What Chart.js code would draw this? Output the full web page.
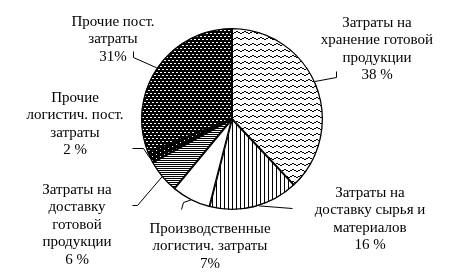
<!DOCTYPE html>
<html lang="ru">
<head>
  <meta charset="UTF-8">
  <title>Структура логистических затрат</title>
  <script src="https://cdn.jsdelivr.net/npm/chart.js"></script>
  <style>
    html, body { margin: 0; padding: 0; background: #fff; }
    #wrap { width: 468px; height: 278px; }
    .preload { font-family: "Liberation Serif"; position: absolute; left: -999px; top: 0; }
  </style>
</head>
<body>
  <div id="wrap"><canvas id="pie" width="468" height="278"></canvas></div>
  <span class="preload">Затраты 38 %</span>
  <script>
    // data, clockwise from 12 o'clock
    const categories = [
      'Затраты на\nхранение готовой\nпродукции',
      'Затраты на\nдоставку сырья и\nматериалов',
      'Производственные\nлогистич. затраты',
      'Затраты на\nдоставку\nготовой\nпродукции',
      'Прочие\nлогистич. пост.\nзатраты',
      'Прочие пост.\nзатраты'
    ];
    const shares = [38, 16, 7, 6, 2, 31];
    const shareLabels = ['38 %', '16 %', '7%', '6 %', '2 %', '31%'];

    // where each label sits and how its leader line runs
    const labelLayout = [
      { x: 377, y: 23, frac: 0.48, path: [[336, 77], [336, 71]] },
      { x: 370, y: 193, frac: 0.45, path: [[292, 208]] },
      { x: 210, y: 229, frac: 0.5, path: [[183, 202], [181, 209]] },
      { x: 77, y: 190, frac: 0.5, path: [[137, 205], [132, 205]] },
      { x: 75, y: 98, frac: 0.5, path: [[143, 148], [132, 148]] },
      { x: 113, y: 22, frac: 0.5, path: [[133, 57], [133, 51]] }
    ];
    const lineStep = 17.4;

    function tile(w, h, draw) {
      const c = document.createElement('canvas');
      c.width = w; c.height = h;
      const g = c.getContext('2d');
      draw(g);
      return g.createPattern(c, 'repeat');
    }
    const ctx0 = document.getElementById('pie').getContext('2d');

    const wavy = tile(8, 6, g => {
      g.fillStyle = '#fff'; g.fillRect(0, 0, 8, 6);
      g.fillStyle = '#000';
      [2, 2, 1, 1, 0, 0, 1, 1].forEach((yy, xx) => g.fillRect(xx, yy + 1, 1, 1));
    });
    const vlines = tile(4, 1, g => {
      g.fillStyle = '#fff'; g.fillRect(0, 0, 4, 1);
      g.fillStyle = '#000'; g.fillRect(0, 0, 1, 1);
    });
    const hlines = tile(1, 2, g => {
      g.fillStyle = '#fff'; g.fillRect(0, 0, 1, 2);
      g.fillStyle = '#000'; g.fillRect(0, 0, 1, 1);
    });
    const darkDots = tile(8, 4, g => {
      g.fillStyle = '#000'; g.fillRect(0, 0, 8, 4);
      g.fillStyle = '#fff'; g.fillRect(0, 0, 1, 1); g.fillRect(4, 2, 1, 1);
    });
    const dashes = tile(4, 6, g => {
      g.fillStyle = '#000'; g.fillRect(0, 0, 4, 6);
      g.fillStyle = '#fff'; g.fillRect(0, 0, 2, 1); g.fillRect(2, 3, 2, 1);
    });
    const fills = [wavy, vlines, '#fff', hlines, darkDots, dashes];

    const FONT = '15px "Liberation Serif", "Times New Roman", serif';

    const outsideLabels = {
      id: 'outsideLabels',
      afterDraw(chart) {
        const ctx = chart.ctx;
        const arcs = chart.getDatasetMeta(0).data;
        ctx.save();
        ctx.strokeStyle = '#000';
        ctx.lineWidth = 1;
        arcs.forEach((arc, i) => {
          const p = arc.getProps(['x', 'y', 'startAngle', 'endAngle', 'outerRadius'], true);
          const L = labelLayout[i];
          const a = p.startAngle + L.frac * (p.endAngle - p.startAngle);
          const ex = p.x + Math.cos(a) * p.outerRadius;
          const ey = p.y + Math.sin(a) * p.outerRadius;
          ctx.beginPath();
          ctx.moveTo(ex, ey);
          L.path.forEach(pt => ctx.lineTo(pt[0] + 0.5, pt[1] + 0.5));
          ctx.stroke();

          ctx.fillStyle = '#000';
          ctx.font = FONT;
          ctx.textAlign = 'center';
          ctx.textBaseline = 'middle';
          const lines = categories[i].split('\n').concat([shareLabels[i]]);
          lines.forEach((t, k) => ctx.fillText(t, L.x, L.y + k * lineStep));
        });
        ctx.restore();
      }
    };

    function draw() {
      new Chart(ctx0, {
        type: 'pie',
        data: {
          labels: categories,
          datasets: [{
            data: shares,
            backgroundColor: fills,
            borderColor: '#000',
            borderWidth: 1,
            borderAlign: 'inner'
          }]
        },
        options: {
          responsive: false,
          animation: false,
          layout: { padding: { top: 28, bottom: 68, left: 0, right: 4 } },
          plugins: {
            legend: { display: false },
            tooltip: { enabled: false }
          }
        },
        plugins: [outsideLabels]
      });
    }
    document.fonts.load('15px "Liberation Serif"', 'Затраты').then(draw, draw);
  </script>
</body>
</html>
